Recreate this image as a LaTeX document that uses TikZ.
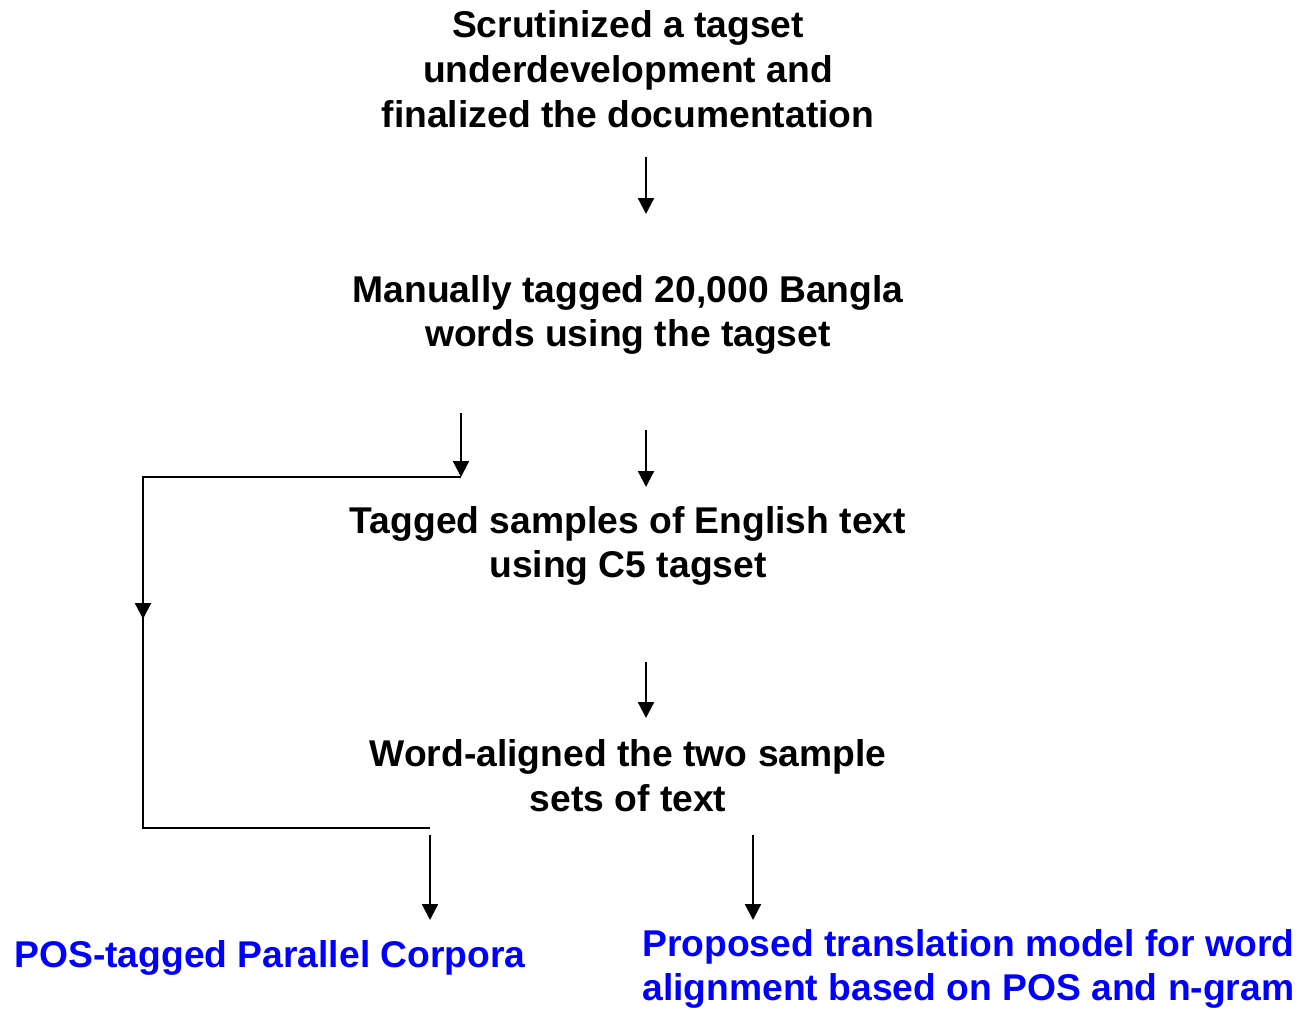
\documentclass[tikz,border=0pt]{standalone}
\usepackage{fontspec}
\setmainfont{Liberation Sans}
\usepackage{xcolor}
\usetikzlibrary{arrows.meta, positioning}
\definecolor{resblue}{RGB}{0,0,255}

\begin{document}
\begin{tikzpicture}[x=0.02cm, y=-0.02cm,
    stagetext/.style={font=\bfseries\fontsize{21.2}{25.5}\selectfont, align=center, inner sep=0pt},
    result/.style={stagetext, text=resblue},
    arr/.style={-{Triangle[width=9pt,length=9pt]}, line width=1.2pt},
    link/.style={line width=1.2pt}]
    \useasboundingbox (0,0) rectangle (1300,1009);

    % stages
    \node[stagetext] (scrut) at (628,69) {Scrutinized a tagset\\underdevelopment and\\finalized the documentation};
    \node[stagetext] (manual) at (628,315) {Manually tagged 20,000 Bangla\\words using the tagset};
    \node[stagetext] (english) at (628,546) {Tagged samples of English text\\using C5 tagset};
    \node[stagetext] (aligned) at (628,776) {Word-aligned the two sample\\sets of text};

    % results
    \node[result] (corpora) at (270,958) {POS-tagged Parallel Corpora};
    \node[result, align=left, anchor=west] (model) at (642,969) {Proposed translation model for word\\alignment based on POS and n-gram};

    % arrow ends
    \coordinate (s1) at (646,157);  \coordinate (e1) at (646,214);
    \coordinate (s2) at (646,430);  \coordinate (e2) at (646,487);
    \coordinate (s3) at (646,662);  \coordinate (e3) at (646,718);
    \coordinate (b1) at (461,413);  \coordinate (b2) at (461,477);
    \coordinate (b3) at (143,477);  \coordinate (b4) at (143,828);
    \coordinate (b5) at (430,828);
    \coordinate (s4) at (430,835);  \coordinate (e4) at (430,920);
    \coordinate (s5) at (753,835);  \coordinate (e5) at (753,920);

    \draw[arr] (s1) -- (e1);
    \draw[arr] (s2) -- (e2);
    \draw[arr] (s3) -- (e3);

    % bypass branch
    \draw[arr] (b1) -- (b2);
    \draw[link] (b2) -- (b3) -- (b4) -- (b5);
    \draw[arr] (b3) -- (143,619);

    \draw[arr] (s4) -- (e4);
    \draw[arr] (s5) -- (e5);
\end{tikzpicture}
\end{document}
